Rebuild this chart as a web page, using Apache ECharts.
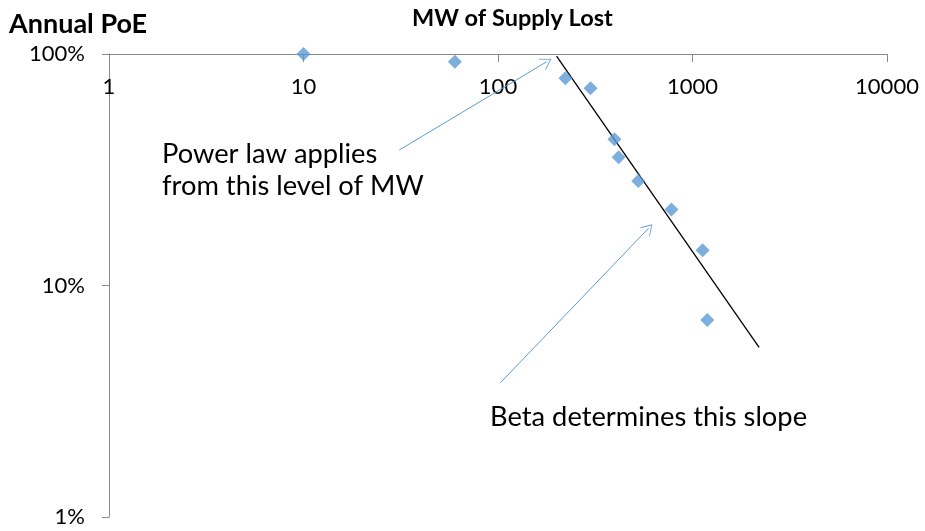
<!DOCTYPE html>
<html><head><meta charset="utf-8">
<script src="https://cdn.jsdelivr.net/npm/echarts@6/dist/echarts.min.js"></script>
<style>html,body{margin:0;padding:0;background:#fff}#c{width:925px;height:531px}</style>
</head><body><div id="c"></div>
<script>
// Data (MW lost, annual probability of exceedance)
const mwLost = [10, 60, 222, 299, 397, 417, 526, 780, 1127, 1191];
const poe    = [1.0, 0.926, 0.785, 0.711, 0.428, 0.358, 0.283, 0.213, 0.142, 0.071];
// Power-law fit line endpoints
const fitMW  = [200, 2200];
const fitPoE = [0.98, 0.054];
// Annotation arrows [from, to] in data space
const arrow1 = [[31.1, 0.385], [178, 0.926]];
const arrow2 = [[102.9, 0.038], [594, 0.1766]];
const xTicks = [1, 10, 100, 1000, 10000];
const yTicks = ['1%', '10%', '100%'];

const font = 'Lato, "Open Sans", sans-serif';
const blue = '#5b9bd5';
const chev = 'path://M0,0 L10,12 L9.2,12.8 L0,1.8 L-9.2,12.8 L-10,12 Z';

const chart = echarts.init(document.getElementById('c'), null, {renderer: 'canvas'});
chart.setOption({
  animation: false,
  grid: {left: 109, top: 54, right: 38, bottom: 14, containLabel: false},
  xAxis: {
    type: 'log', logBase: 10, min: 1, max: 10000, position: 'top',
    axisLine: {show: true, lineStyle: {color: '#898989', width: 1}},
    axisTick: {show: true, inside: true, length: 8, lineStyle: {color: '#898989'}},
    axisLabel: {inside: true, margin: 22, color: '#000', fontSize: 22, fontFamily: font,
      verticalAlign: 'top', formatter: v => String(Math.round(v))},
    splitLine: {show: false}, minorTick: {show: false}
  },
  yAxis: {
    type: 'log', logBase: 10, min: 0.01, max: 1,
    axisLine: {show: true, lineStyle: {color: '#898989', width: 1}},
    axisTick: {show: true, inside: false, length: 7, lineStyle: {color: '#898989'}},
    axisLabel: {margin: 24, color: '#000', fontSize: 22, fontFamily: font,
      formatter: v => yTicks[Math.round(Math.log10(v)) + 2]},
    splitLine: {show: false}
  },
  graphic: [
    {type: 'text', x: 9, y: 24, style: {text: 'Annual PoE', font: 'bold 27px ' + font, fill: '#000', verticalAlign: 'middle'}},
    {type: 'text', x: 412, y: 18.5, style: {text: 'MW of Supply Lost', font: 'bold 23.5px ' + font, fill: '#000', verticalAlign: 'middle'}},
    {type: 'text', x: 162, y: 154, style: {text: 'Power law applies', font: '27.3px ' + font, fill: '#000', verticalAlign: 'middle'}},
    {type: 'text', x: 162, y: 186, style: {text: 'from this level of MW', font: '27.3px ' + font, fill: '#000', verticalAlign: 'middle'}},
    {type: 'text', x: 490, y: 417, style: {text: 'Beta determines this slope', font: '27.3px ' + font, fill: '#000', verticalAlign: 'middle'}}
  ],
  series: [
    {
      type: 'line', data: fitMW.map((x, i) => [x, fitPoE[i]]),
      symbol: 'none', lineStyle: {color: '#000', width: 1.3}, silent: true, z: 2
    },
    {
      type: 'scatter', data: mwLost.map((x, i) => [x, poe[i]]),
      symbol: 'diamond', symbolSize: 14, itemStyle: {color: blue}, z: 3,
      markLine: {
        silent: true, symbol: ['none', chev], symbolSize: [13, 11],
        lineStyle: {color: blue, width: 1, type: 'solid'}, label: {show: false},
        data: [
          [{coord: arrow1[0]}, {coord: arrow1[1]}],
          [{coord: arrow2[0]}, {coord: arrow2[1]}]
        ]
      }
    }
  ]
});
</script></body></html>
